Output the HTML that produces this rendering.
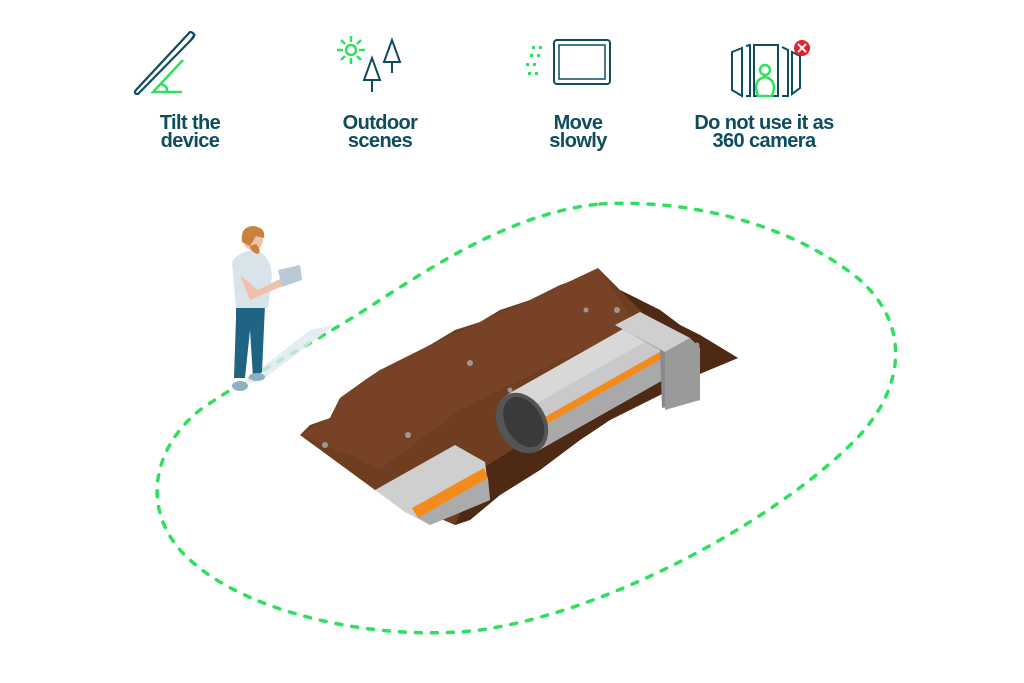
<!DOCTYPE html><html><head><style>
body{margin:0;background:#fff;}
.l{position:absolute;font-family:"Liberation Sans Narrow","Liberation Sans",sans-serif;font-weight:bold;font-size:20px;line-height:18px;color:#0e4d5e;text-align:center;width:200px;letter-spacing:-0.6px}
</style></head><body>
<div style="position:relative;width:1024px;height:683px;overflow:hidden">
<svg width="1024" height="683" style="position:absolute;left:0;top:0">
<g fill="none" stroke="#0e4d5e" stroke-width="2.2">
<path d="M190,32 L136,90 Q133,94 138,94 L193,38 Q196,33 190,32 Z"/>
<path d="M195,34 L191,40"/>
</g>
<g fill="none" stroke="#2ee05c" stroke-width="2.5">
<path d="M183,60 L153,92 L182,92"/><path d="M161,84 Q168,86 167,92"/>
</g>
<g stroke="#2ee05c" stroke-width="2.5" fill="none">
<circle cx="351" cy="50" r="5"/>
<path d="M351,36v6M351,58v6M337,50h6M359,50h6M341,40l4,4M357,56l4,4M361,40l-4,4M345,56l-4,4"/>
</g>
<g stroke="#0e4d5e" stroke-width="2" fill="none">
<path d="M392,40 L384,62 L400,62 Z M392,62 V73"/>
<path d="M372,58 L364,80 L380,80 Z M372,80 V92"/>
</g>
<g fill="#2ee05c"><rect x="532" y="46" width="3" height="3"/><rect x="539" y="46" width="3" height="3"/><rect x="530" y="54" width="3" height="3"/><rect x="537" y="54" width="3" height="3"/><rect x="526" y="63" width="3" height="3"/><rect x="533" y="63" width="3" height="3"/><rect x="528" y="72" width="3" height="3"/><rect x="535" y="72" width="3" height="3"/></g>
<rect x="554" y="40" width="56" height="44" rx="3" fill="none" stroke="#0e4d5e" stroke-width="2"/>
<rect x="559" y="45" width="46" height="34" fill="none" stroke="#0e4d5e" stroke-width="1.5"/>
<g stroke="#0e4d5e" stroke-width="2" fill="none">
<path d="M742,48 L732,52 L732,90 L742,96 Z"/><path d="M746,46 L750,45 L750,96 L746,96"/>
<path d="M754,45 L778,45 L778,96 L754,96 Z"/>
<path d="M782,47 L788,50 L788,96 L782,96"/><path d="M792,52 L800,56 L800,88 L792,94 Z"/>
</g>
<g stroke="#2ee05c" stroke-width="2.5" fill="none"><circle cx="765" cy="70" r="5"/><path d="M758,96 Q752,80 765,77 Q778,80 772,96 Z"/></g>
<circle cx="802" cy="48" r="8" fill="#e8202a"/><path d="M798,44l8,8M806,44l-8,8" stroke="#fff" stroke-width="2"/>
<path d="M600,204 C700,198 800,230 860,280 C910,325 905,385 860,435 C790,510 620,610 480,630 C380,642 250,615 190,560 C140,515 150,450 200,410 C250,375 320,340 380,300 C450,255 520,212 600,204 Z" fill="none" stroke="#2ee05c" stroke-width="3.5" stroke-dasharray="6 10" stroke-linecap="round"/>
<polygon points="240,385 262,380 335,325 310,330" fill="#dde8ee" opacity="0.8"/>
<polygon points="300,435 310,425 330,418 340,398 365,380 380,370 400,362 430,345 455,330 480,322 500,310 530,300 560,285 590,275 598,268 620,290 660,310 680,325 700,335 738,358 690,378 660,395 610,420 580,440 540,470 500,495 470,520 455,525 420,510 375,490" fill="#6f3d1f"/>
<polygon points="598,268 620,290 660,310 680,325 700,335 738,358 690,378 660,395 610,420 580,440 540,470 500,495 470,520 455,525 480,470 560,420 640,370 660,330" fill="#4e2a14"/>
<polygon points="300,435 330,418 340,398 380,370 430,345 480,322 530,300 598,268 640,330 560,360 460,410 380,470 350,455" fill="#774225"/>
<g transform="translate(522,423) rotate(-29.5)">
<rect x="0" y="-32" width="160" height="64" fill="#c9c9c9"/>
<rect x="0" y="-32" width="160" height="22" fill="#d8d8d8"/>
<rect x="0" y="6" width="160" height="7" fill="#f28a1c"/>
<rect x="0" y="13" width="160" height="19" fill="#a9a9a9"/>
<ellipse cx="0" cy="0" rx="24" ry="32" fill="#555"/>
<ellipse cx="2" cy="0" rx="18" ry="27" fill="#3a3a3a"/>
</g>
<polygon points="615,325 640,312 690,338 700,348 700,400 662,408 660,350" fill="#8a8a8a"/>
<polygon points="615,325 640,312 690,338 665,352" fill="#cfcfcf"/>
<polygon points="665,352 690,338 700,348 700,400 665,410" fill="#9a9a9a"/>
<polygon points="375,490 455,445 485,462 490,500 430,525 405,512" fill="#cfcfcf"/>
<polygon points="412,508 484,468 488,478 418,518" fill="#f28a1c"/>
<polygon points="418,518 488,478 490,500 430,525" fill="#ababab"/>
<g fill="#999"><circle cx="325" cy="445" r="3"/><circle cx="408" cy="435" r="3"/><circle cx="470" cy="363" r="3"/><circle cx="510" cy="390" r="2.5"/><circle cx="586" cy="310" r="2.5"/><circle cx="617" cy="310" r="3"/><circle cx="697" cy="345" r="2.5"/></g>
<path d="M236,318 L234,378 L245,378 L250,330 L253,378 L262,372 L265,305 L236,305 Z" fill="#1f6482"/>
<path d="M232,262 Q240,250 256,250 Q270,255 272,275 L268,308 L236,308 Z" fill="#d8e4e9"/>
<path d="M240,275 L250,300 L285,285 L282,278 L258,290 Z" fill="#f0c0aa"/>
<polygon points="278,270 300,265 302,280 282,287" fill="#b8cad6"/>
<circle cx="253" cy="240" r="10" fill="#f0c0aa"/>
<path d="M242,242 Q240,226 254,226 Q266,228 264,238 L256,236 L250,246 Z" fill="#c9823d"/>
<path d="M256,244 Q262,250 258,254 Q250,252 250,246Z" fill="#c9823d"/>
<ellipse cx="240" cy="386" rx="8" ry="5" fill="#8fb0c0"/><ellipse cx="257" cy="377" rx="8" ry="4" fill="#8fb0c0"/>
</svg>
<div class="l" style="left:90px;top:114px">Tilt the<br>device</div>
<div class="l" style="left:280px;top:114px">Outdoor<br>scenes</div>
<div class="l" style="left:478px;top:114px">Move<br>slowly</div>
<div class="l" style="left:664px;top:114px;width:200px">Do not use it as<br>360 camera</div>
</div>
</body></html>
